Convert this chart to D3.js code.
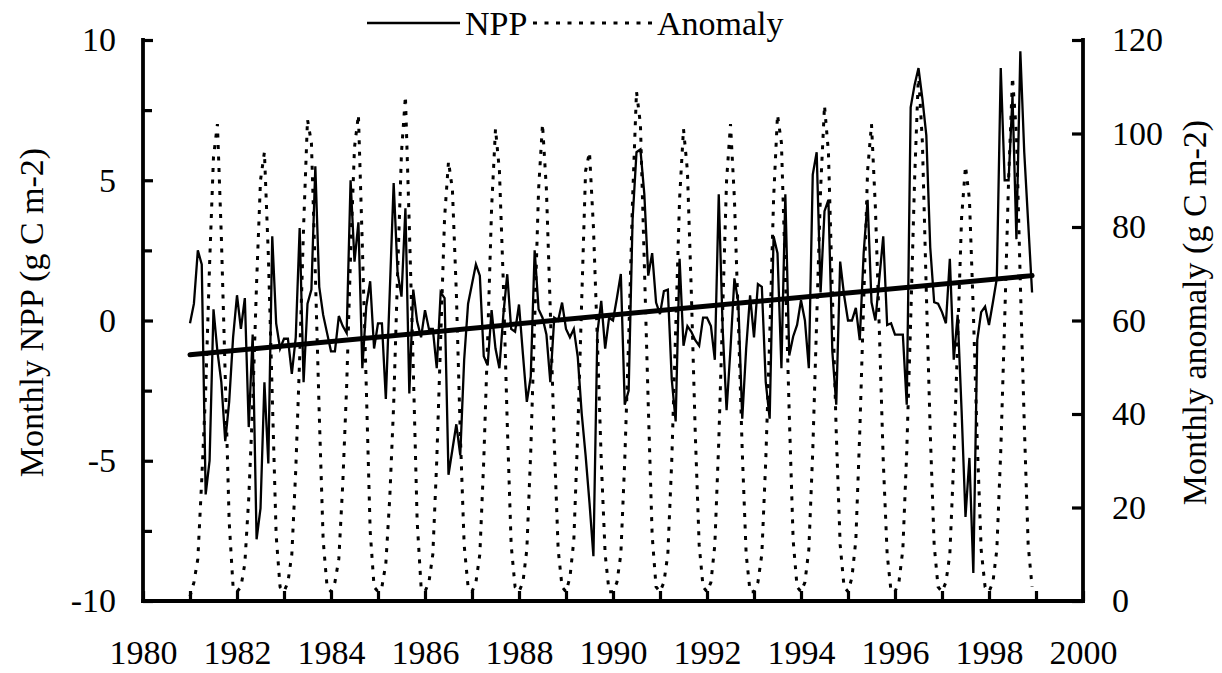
<!DOCTYPE html>
<html>
<head>
<meta charset="utf-8">
<script src="https://cdn.jsdelivr.net/npm/d3@7"></script>
<style>
  html, body { margin: 0; padding: 0; background: #fff; }
  svg { display: block; }
  text { font-family: "Liberation Serif", "Times New Roman", serif; fill: #000; }
</style>
</head>
<body>
<svg id="chart" width="1222" height="673"></svg>
<script>
// Monthly series, January 1981 to December 1998
const startYear = 1981;

// Monthly NPP anomaly, left axis (solid line)
const nppSeries = [
  -0.1, 0.6, 2.5, 2.0, -6.2, -5.0, 0.4, -1.1, -2.2, -4.3, -2.9, -0.6,      // 1981
  0.9, -0.3, 0.8, -3.8, -0.5, -7.8, -6.7, -2.2, -5.1, 3.0, -0.1, -1.0,     // 1982
  -0.65, -0.65, -1.9, -0.6, 3.3, -2.2, 0.6, 1.1, 5.5, 1.2, 0.2, -0.45,     // 1983
  -1.1, -1.1, 0.16, -0.2, -0.45, 5.0, 2.1, 3.5, -1.7, 0.5, 1.4, -1.0,      // 1984
  -0.1, -0.1, -2.8, 1.0, 4.9, 1.7, 0.85, 4.0, -2.6, 1.1, -0.04, -0.6,      // 1985
  0.37, -0.3, -0.3, -1.7, 1.0, 0.8, -5.5, -4.6, -3.7, -4.8, -1.4, 0.6,     // 1986
  1.3, 2.0, 1.6, -1.27, -1.6, 0.37, -1.0, -1.7, 0.2, 1.65, -0.3, -0.4,     // 1987
  0.57, -1.2, -2.9, -2.0, 2.5, 0.4, 0.1, -0.5, -2.2, 0.1, 0.0, 0.64,       // 1988
  -0.3, -0.6, -0.3, -1.3, -3.3, -4.8, -6.5, -8.4, -0.45, 0.7, -1.0, 0.1,   // 1989
  0.0, 0.8, 1.66, -3.0, -2.5, 3.6, 6.0, 6.1, 4.5, 1.6, 2.4, 0.64,          // 1990
  0.23, 1.05, 1.1, -2.1, -3.6, 2.2, -0.9, -0.2, -0.4, -0.7, -0.9, 0.1,     // 1991
  0.1, -0.2, -1.4, 4.5, -0.3, -3.2, -1.0, 1.5, 0.64, -3.5, -1.0, 0.9,      // 1992
  -0.6, 1.3, 1.2, -2.2, -3.5, 3.0, 2.4, -1.7, 4.5, -1.25, -0.57, -0.16,    // 1993
  0.72, 0.0, -1.7, 5.2, 6.0, 1.0, 3.9, 4.3, -1.1, -3.0, 2.1, 0.9,          // 1994
  0.0, 0.0, 0.45, -0.7, 2.4, 4.3, 0.65, 0.0, 1.5, 3.0, -0.16, -0.1,        // 1995
  -0.5, -0.5, -0.5, -3.0, 7.6, 8.4, 9.0, 7.9, 6.6, 2.6, 0.65, 0.6,         // 1996
  0.3, -0.1, 2.2, -1.4, 0.2, -3.2, -7.0, -4.9, -9.0, -0.7, 0.3, 0.5,       // 1997
  -0.16, 0.65, 1.5, 9.0, 5.0, 5.0, 8.0, 2.9, 9.6, 6.0, 3.5, 1.0            // 1998
];

// Monthly anomaly series, right axis (dotted line)
const anomalySeries = [
  1, 4, 9, 26, 45, 72, 95, 102, 78, 48, 17, 3,      // 1981
  2, 3, 8, 22, 42, 68, 90, 96, 74, 44, 14, 3,       // 1982
  2, 4, 10, 28, 52, 80, 103, 98, 70, 40, 13, 3,     // 1983
  2, 4, 9, 25, 46, 74, 97, 104, 76, 46, 15, 3,      // 1984
  2, 3, 8, 22, 42, 70, 96, 108, 80, 50, 17, 3,      // 1985
  2, 4, 10, 30, 56, 82, 94, 88, 66, 36, 12, 3,      // 1986
  2, 4, 10, 30, 56, 84, 101, 92, 68, 38, 12, 3,     // 1987
  2, 4, 11, 32, 60, 88, 102, 88, 62, 34, 11, 3,     // 1988
  2, 5, 13, 36, 64, 92, 96, 80, 56, 30, 10, 2,      // 1989
  2, 4, 10, 30, 56, 86, 109, 102, 72, 42, 14, 3,    // 1990
  2, 4, 10, 30, 58, 86, 101, 92, 66, 36, 12, 3,     // 1991
  2, 4, 12, 34, 62, 90, 102, 86, 60, 32, 10, 2,     // 1992
  2, 4, 10, 30, 56, 86, 104, 98, 70, 40, 13, 3,     // 1993
  2, 4, 11, 32, 60, 88, 106, 96, 66, 36, 12, 3,     // 1994
  2, 5, 13, 36, 64, 92, 102, 84, 58, 30, 10, 2,     // 1995
  2, 4, 11, 32, 60, 90, 113, 98, 66, 36, 12, 3,     // 1996
  2, 4, 10, 30, 56, 82, 93, 86, 62, 34, 11, 3,      // 1997
  2, 4, 11, 32, 60, 90, 112, 100, 68, 38, 12, 3     // 1998
];

// Linear trend of the NPP series: value at first and last month
const trendValues = [-1.22, 1.6];

// Axis ticks and labels
const yearTicks = d3.range(1980, 2001);
const yearLabels = [1980, 1982, 1984, 1986, 1988, 1990, 1992, 1994, 1996, 1998, 2000];
const leftTicks = [-10, -5, 0, 5, 10];
const leftMinorTicks = [-7.5, -2.5, 2.5, 7.5];
const rightTicks = [0, 20, 40, 60, 80, 100, 120];

const leftTitle = "Monthly NPP (g C m-2)";
const rightTitle = "Monthly anomaly (g C m-2)";
const legendItems = ["NPP", "Anomaly"];

// Layout
const plot = { left: 143, right: 1083, top: 40, bottom: 601 };
const fontSize = 34;
const dotted = "4,7.5";

const svg = d3.select("#chart");

const x = d3.scaleLinear().domain([1980, 2000]).range([plot.left, plot.right]);
const yL = d3.scaleLinear().domain([-10, 10]).range([plot.bottom, plot.top]);
const yR = d3.scaleLinear().domain([0, 120]).range([plot.bottom, plot.top]);

const monthTime = i => startYear + i / 12;

// Dotted series
svg.append("path")
  .datum(anomalySeries)
  .attr("fill", "none")
  .attr("stroke", "#000")
  .attr("stroke-width", 3)
  .attr("stroke-dasharray", dotted)
  .attr("d", d3.line().x((d, i) => x(monthTime(i))).y(d => yR(d)));

// Solid series
svg.append("path")
  .datum(nppSeries)
  .attr("fill", "none")
  .attr("stroke", "#000")
  .attr("stroke-width", 2.3)
  .attr("stroke-linejoin", "miter")
  .attr("d", d3.line().x((d, i) => x(monthTime(i))).y(d => yL(d)));

// Trend line
const trendTimes = [monthTime(0), monthTime(nppSeries.length - 1)];
svg.append("path")
  .datum(trendValues)
  .attr("fill", "none")
  .attr("stroke", "#000")
  .attr("stroke-width", 5)
  .attr("stroke-linecap", "round")
  .attr("d", d3.line().x((d, i) => x(trendTimes[i])).y(d => yL(d)));

// Axes
function styleAxis(g) {
  g.select(".domain").remove();
  g.selectAll(".tick line").attr("stroke", "#000").attr("stroke-width", 3.2);
  g.selectAll(".tick text").attr("font-size", fontSize).attr("fill", "#000")
    .attr("font-family", '"Liberation Serif", "Times New Roman", serif');
}

svg.append("g")
  .attr("transform", `translate(${plot.left},0)`)
  .call(d3.axisLeft(yL).tickValues(leftTicks).tickSize(-10).tickPadding(27).tickFormat(d => String(d)))
  .call(styleAxis);
svg.append("g")
  .attr("transform", `translate(${plot.left},0)`)
  .call(d3.axisLeft(yL).tickValues(leftMinorTicks).tickSize(-9).tickFormat(""))
  .call(styleAxis);

svg.append("g")
  .attr("transform", `translate(${plot.right},0)`)
  .call(d3.axisRight(yR).tickValues(rightTicks).tickSize(-11).tickPadding(29).tickFormat(d => String(d)))
  .call(styleAxis);

svg.append("g")
  .attr("transform", `translate(0,${plot.bottom})`)
  .call(d3.axisBottom(x).tickValues(yearTicks).tickSize(-10).tickFormat(""))
  .call(styleAxis);
svg.append("g")
  .attr("transform", `translate(0,${plot.bottom})`)
  .call(d3.axisBottom(x).tickValues(yearLabels).tickSize(0).tickPadding(39).tickFormat(d => String(d)))
  .call(styleAxis);

// Axis frame lines
const frame = svg.append("g").attr("stroke", "#000").attr("stroke-width", 3.8).attr("stroke-linecap", "square");
frame.append("line").attr("x1", plot.left).attr("x2", plot.left).attr("y1", yL(10)).attr("y2", yL(-10));
frame.append("line").attr("x1", plot.right).attr("x2", plot.right).attr("y1", yR(120)).attr("y2", yR(0));
frame.append("line").attr("x1", x(1980)).attr("x2", x(2000)).attr("y1", plot.bottom).attr("y2", plot.bottom);

// Axis titles
svg.append("text")
  .attr("transform", `translate(43,${(plot.top + plot.bottom) / 2 - 8}) rotate(-90)`)
  .attr("text-anchor", "middle")
  .attr("font-size", fontSize)
  .text(leftTitle);
svg.append("text")
  .attr("transform", `translate(1206,${(plot.top + plot.bottom) / 2 - 8}) rotate(-90)`)
  .attr("text-anchor", "middle")
  .attr("font-size", fontSize)
  .text(rightTitle);

// Legend
const legend = svg.append("g");
legend.append("line").attr("x1", 367).attr("x2", 460).attr("y1", 23).attr("y2", 23)
  .attr("stroke", "#000").attr("stroke-width", 2.3);
legend.append("text").attr("x", 465).attr("y", 35).attr("font-size", fontSize).text(legendItems[0]);
legend.append("line").attr("x1", 533).attr("x2", 652).attr("y1", 23).attr("y2", 23)
  .attr("stroke", "#000").attr("stroke-width", 3).attr("stroke-dasharray", dotted);
legend.append("text").attr("x", 657).attr("y", 35).attr("font-size", fontSize).text(legendItems[1]);
</script>
</body>
</html>
